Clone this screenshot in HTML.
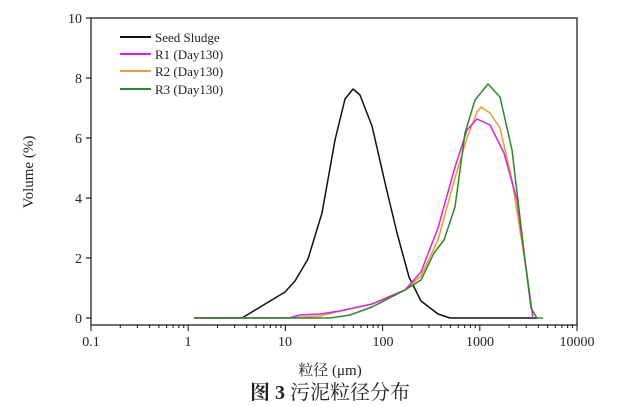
<!DOCTYPE html>
<html><head><meta charset="utf-8"><style>
html,body{margin:0;padding:0;background:#fff;}
svg{display:block;}
text{font-family:"Liberation Serif","Noto Serif CJK SC",serif;fill:#222;}
</style></head><body>
<svg width="644" height="406" viewBox="0 0 644 406" xmlns="http://www.w3.org/2000/svg">
<rect width="644" height="406" fill="#fff"/>
<rect x="91" y="18" width="486" height="307" fill="none" stroke="#222" stroke-width="1.3"/>
<g stroke="#222" stroke-width="1.2">
<line x1="86" y1="18" x2="91" y2="18"/><line x1="86" y1="78" x2="91" y2="78"/>
<line x1="86" y1="138" x2="91" y2="138"/><line x1="86" y1="198" x2="91" y2="198"/>
<line x1="86" y1="258" x2="91" y2="258"/><line x1="86" y1="318" x2="91" y2="318"/>
</g>
<g font-size="14" text-anchor="end">
<text x="82" y="23">10</text><text x="82" y="83">8</text><text x="82" y="143">6</text>
<text x="82" y="203">4</text><text x="82" y="263">2</text><text x="82" y="323">0</text>
</g>
<path stroke="#222" stroke-width="1.1" fill="none" d="
M91,325v6M188.2,325v6M285.4,325v6M382.6,325v6M479.8,325v6M577,325v6
M120.3,325v3M137.4,325v3M149.5,325v3M158.9,325v3M166.6,325v3M173.1,325v3M178.8,325v3M183.7,325v3
M217.5,325v3M234.6,325v3M246.7,325v3M256.1,325v3M263.8,325v3M270.3,325v3M276,325v3M280.9,325v3
M314.7,325v3M331.8,325v3M343.9,325v3M353.3,325v3M361,325v3M367.5,325v3M373.2,325v3M378.1,325v3
M411.9,325v3M429,325v3M441.1,325v3M450.5,325v3M458.2,325v3M464.7,325v3M470.4,325v3M475.3,325v3
M509.1,325v3M526.2,325v3M538.3,325v3M547.7,325v3M555.4,325v3M561.9,325v3M567.6,325v3M572.5,325v3"/>
<g font-size="14" text-anchor="middle">
<text x="91" y="346">0.1</text><text x="188" y="346">1</text><text x="285" y="346">10</text>
<text x="383" y="346">100</text><text x="480" y="346">1000</text><text x="577" y="346">10000</text>
</g>
<text x="330" y="375" font-size="15" text-anchor="middle">粒径 (μm)</text>
<text transform="translate(33,172) rotate(-90)" font-size="15" text-anchor="middle">Volume (%)</text>
<text x="330" y="399" font-size="20" text-anchor="middle"><tspan font-weight="bold">图 3</tspan> 污泥粒径分布</text>
<g stroke-width="2">
<line x1="120" y1="37" x2="151" y2="37" stroke="#111"/>
<line x1="120" y1="54" x2="151" y2="54" stroke="#e020e0"/>
<line x1="120" y1="71" x2="151" y2="71" stroke="#e8a030"/>
<line x1="120" y1="89" x2="151" y2="89" stroke="#2a8a2a"/>
</g>
<g font-size="13">
<text x="155" y="42">Seed Sludge</text><text x="155" y="59">R1 (Day130)</text>
<text x="155" y="76">R2 (Day130)</text><text x="155" y="94">R3 (Day130)</text>
</g>
<g fill="none" stroke-width="1.5" stroke-linejoin="round">
<polyline stroke="#111" points="194,318 242,318 285,292 295,281 308,259 322,213 335,140 345,99 353,89 360,95 372,126 386,187 397,233 409,277 421,301 438,314 450,318 537,318"/>
<polyline stroke="#e8a030" points="194,318 289,318 320,316 340,311 372,304 405,290 421,276 438,240 455,178 467,138 477,112 481,107 490,113 500,128 512,180 525,262 533,318"/>
<polyline stroke="#e020e0" points="194,318 289,318 300,315 320,314 340,311 372,304 405,290 421,272 438,228 455,167 467,130 477,119 490,125 504,153 517,200 525,260 533,318"/>
<polyline stroke="#2a8a2a" points="194,318 330,318 350,315 372,307 405,290 421,280 434,253 444,240 455,207 465,133 475,100 488,84 500,97 512,150 525,260 531,308 537,318 543,318"/>
</g>
</svg>
</body></html>
